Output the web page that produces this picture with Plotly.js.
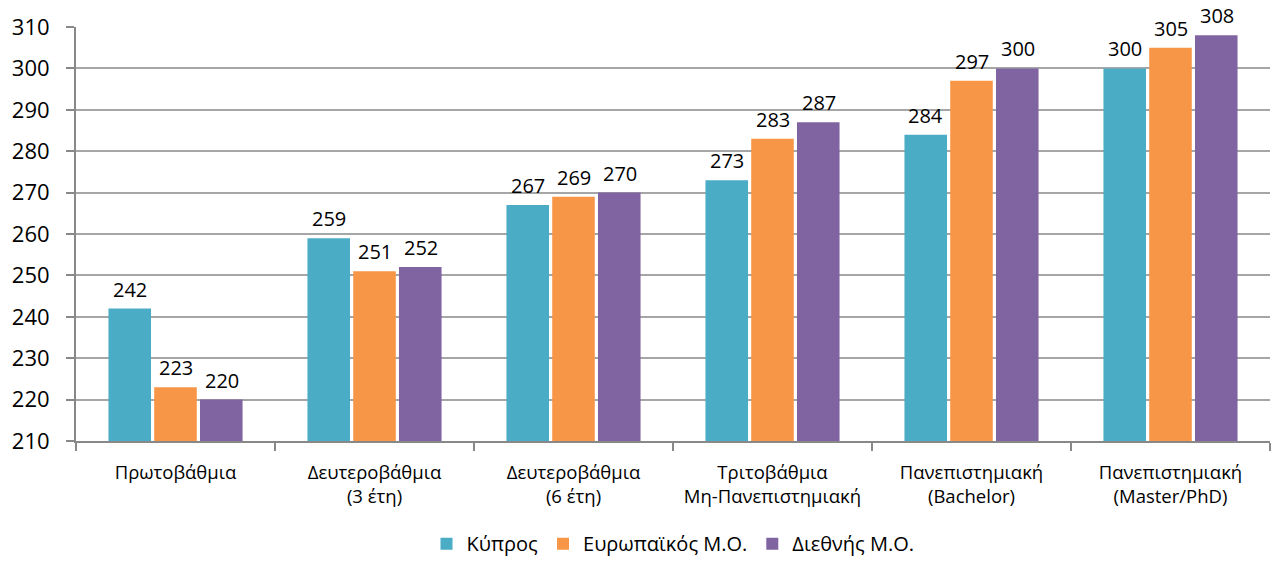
<!DOCTYPE html>
<html><head><meta charset="utf-8">
<script src="https://cdn.plot.ly/plotly-3.0.1.min.js"></script>
<style>body{margin:0;background:#fff}#c{width:1276px;height:568px}</style>
</head><body><div id="c"></div>
<script>
const categories = ["Πρωτοβάθμια","Δευτεροβάθμια<br>(3 έτη)","Δευτεροβάθμια<br>(6 έτη)","Τριτοβάθμια<br>Μη-Πανεπιστημιακή","Πανεπιστημιακή<br>(Bachelor)","Πανεπιστημιακή<br>(Master/PhD)"];
const seriesNames = ["Κύπρος","Ευρωπαϊκός Μ.Ο.","Διεθνής Μ.Ο."];
const cyprus = [242,259,267,273,284,300];
const europe = [223,251,269,283,297,305];
const intl = [220,252,270,287,300,308];
const colors = ["#4BACC6","#F79646","#8064A2"];
const F = "Open Sans, Liberation Sans, sans-serif";
const allSeries = [cyprus, europe, intl];
const data = allSeries.map((v,i)=>({
  type:'bar', x:categories, y:v.map(a=>a-210), base:210, name:seriesNames[i],
  marker:{color:colors[i]}, hoverinfo:'none'
}));
const slotPx = 46;
const annotations = [];
allSeries.forEach((v,i)=>{
  v.forEach((val,j)=>{
    annotations.push({x:categories[j], y:val, text:String(val), showarrow:false,
      xanchor:'center', yanchor:'bottom', xshift:(i-1)*slotPx, yshift:4,
      font:{family:F,size:20,color:'#000'}});
  });
});
const layout = {
  width:1276, height:568, margin:{l:76,r:6,t:27,b:126},
  paper_bgcolor:'#fff', plot_bgcolor:'#fff',
  barmode:'group', bargap:0.31, bargroupgap:0.07,
  font:{family:F,color:'#000'},
  annotations:annotations,
  xaxis:{showline:true, linecolor:'#888', linewidth:2, ticks:'outside', tickson:'boundaries', ticklen:8, tickcolor:'#888', tickwidth:2,
    tickfont:{family:F,size:18.5,color:'#000'}, ticklabelstandoff:14, automargin:false},
  yaxis:{range:[210,310], dtick:10, tick0:210, showgrid:true, gridcolor:'#A6A6A6', gridwidth:2, showline:true, linecolor:'#888', linewidth:2,
    ticks:'outside', ticklen:8, tickcolor:'#888', tickwidth:2, tickfont:{family:F,size:22,color:'#000'}, zeroline:false, ticklabelstandoff:12, automargin:false},
  legend:{orientation:'h', x:0.5, xanchor:'center', y:-0.245, yanchor:'middle', font:{family:F,size:20,color:'#000'}},
  showlegend:true
};
Plotly.newPlot('c', data, layout, {displayModeBar:false});
</script></body></html>
